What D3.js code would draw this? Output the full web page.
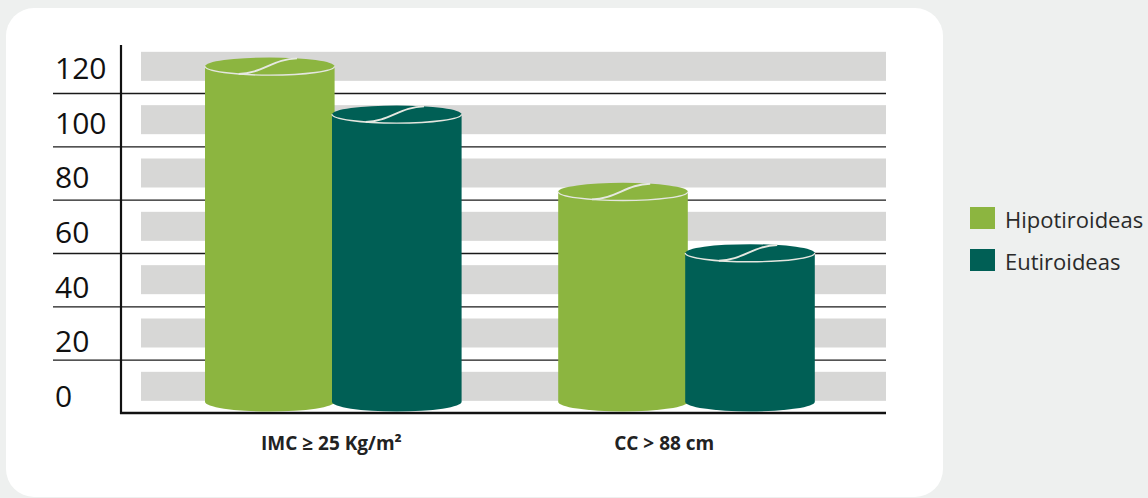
<!DOCTYPE html>
<html>
<head>
<meta charset="utf-8">
<script src="https://cdn.jsdelivr.net/npm/d3@7"></script>
<style>
  html, body { margin: 0; padding: 0; background: #eef0ef; }
  svg { display: block; }
  text { font-family: "Open Sans", "Noto Sans", sans-serif; }
</style>
</head>
<body>
<svg id="chart" width="1148" height="498"></svg>
<script>
// Data
const categories = ["IMC ≥ 25 Kg/m²", "CC > 88 cm"];
const seriesNames = ["Hipotiroideas", "Eutiroideas"];
const hipotiroideas = [130, 83];
const eutiroideas = [112, 60];
const yTicks = [0, 20, 40, 60, 80, 100, 120];
const seriesColors = ["#8cb540", "#005f55"];

const values = [hipotiroideas, eutiroideas];

const svg = d3.select("#chart");
const W = 1148, H = 498;

// Background and white card
svg.append("rect").attr("width", W).attr("height", H).attr("fill", "#eef0ef");
svg.append("rect")
  .attr("x", 6).attr("y", 8).attr("width", 937).attr("height", 489)
  .attr("rx", 28).attr("ry", 28)
  .attr("fill", "#ffffff");

// Plot geometry
const plotLeft = 121, plotRight = 886, gridLeft = 53, bandLeft = 141;

const y = d3.scaleLinear().domain([0, 120]).range([413, 93]);
const step = y(0) - y(20);

// Category positions and series offsets within a category
const x0 = d3.scalePoint().domain(categories).range([333.3, 686.5]);
const x1 = d3.scaleBand().domain(seriesNames).range([-127, 127]).padding(0);

// Light grey bands centred in every 20-unit interval
const bandVals = d3.range(0, 140, 20);
svg.append("g").selectAll("rect")
  .data(bandVals)
  .join("rect")
  .attr("x", bandLeft)
  .attr("width", plotRight - bandLeft)
  .attr("y", d => y(d + 10) - step * 0.272)
  .attr("height", step * 0.544)
  .attr("fill", "#d7d7d6");

// Horizontal gridlines through an axis generator
const gridAxis = d3.axisLeft(y)
  .tickValues(yTicks.filter(v => v > 0))
  .tickSize(plotRight - gridLeft)
  .tickFormat("");
const gridG = svg.append("g")
  .attr("transform", `translate(${plotRight},0)`)
  .call(gridAxis);
gridG.select(".domain").remove();
gridG.selectAll(".tick line").attr("stroke", "#1a1a1a").attr("stroke-width", 1.4);

// Tick labels sit above their gridlines
const labelY = d3.scaleLinear().domain([0, 120]).range([y(0) - 16, y(120) - 24]);
const labelAxis = d3.axisLeft(labelY).tickValues(yTicks).tickSize(0).tickPadding(0);
const labelG = svg.append("g")
  .attr("transform", "translate(55,0)")
  .call(labelAxis);
labelG.select(".domain").remove();
labelG.selectAll(".tick text")
  .attr("text-anchor", "start")
  .attr("x", 0)
  .attr("font-family", "'Open Sans', sans-serif")
  .attr("font-weight", 400)
  .attr("font-size", 30)
  .attr("fill", "#111");

// Axis lines
svg.append("line")
  .attr("x1", plotLeft).attr("x2", plotLeft)
  .attr("y1", 45).attr("y2", y(0) + 1)
  .attr("stroke", "#111").attr("stroke-width", 2.2);
svg.append("line")
  .attr("x1", plotLeft - 1).attr("x2", plotRight)
  .attr("y1", y(0)).attr("y2", y(0))
  .attr("stroke", "#111").attr("stroke-width", 2.4);

// Cylinders
const ry = 8.8;
const cyls = [];
seriesNames.forEach((s, si) => {
  categories.forEach((c, ci) => {
    cyls.push({ series: s, si, cat: c, value: values[si][ci] });
  });
});

const cylG = svg.append("g");
const rx = (x1.bandwidth() + 2.6) / 2;

cylG.selectAll("g.cyl")
  .data(cyls)
  .join("g")
  .attr("class", "cyl")
  .each(function(d) {
    const g = d3.select(this);
    const cx = x0(d.cat) + x1(d.series) + x1.bandwidth() / 2;
    const yTop = y(d.value);
    const yBase = y(0) - ry - 2.5;
    const color = seriesColors[d.si];
    const xl = cx - rx, xr = cx + rx;

    // body with rounded base
    g.append("path")
      .attr("d", `M${xl},${yTop} L${xl},${yBase} A${rx},${ry + 1} 0 0 0 ${xr},${yBase} L${xr},${yTop} Z`)
      .attr("fill", color);

    // top face
    g.append("ellipse")
      .attr("cx", cx).attr("cy", yTop)
      .attr("rx", rx).attr("ry", ry)
      .attr("fill", color);

    // light front rim of the top face
    g.append("path")
      .attr("d", `M${xl},${yTop} A${rx},${ry} 0 0 0 ${xr},${yTop}`)
      .attr("fill", "none")
      .attr("stroke", "#e4e6df")
      .attr("stroke-width", 1.4);

    // sweeping highlight across the top face
    const fa = -0.48, fb = 0.42;
    const ax = cx + fa * rx, ay = yTop + ry * Math.sqrt(1 - fa * fa);
    const bx = cx + fb * rx, by = yTop - ry * Math.sqrt(1 - fb * fb);
    const dx = bx - ax;
    g.append("path")
      .attr("d", `M${ax},${ay} C${ax + dx * 0.4},${ay - 0.5} ${bx - dx * 0.4},${by + 0.5} ${bx},${by}`)
      .attr("fill", "none")
      .attr("stroke", "#e6e8e1")
      .attr("stroke-width", 1.9);
  });

// Category labels
svg.append("g").selectAll("text")
  .data(categories)
  .join("text")
  .attr("x", d => x0(d) - x1.bandwidth() - 1.3 + 56)
  .attr("y", 450)
  .attr("text-anchor", "start")
  .attr("font-weight", 700)
  .attr("font-size", 19)
  .attr("fill", "#222")
  .text(d => d);

// Legend
const legend = svg.append("g").attr("transform", "translate(970,207)");
const li = legend.selectAll("g")
  .data(seriesNames)
  .join("g")
  .attr("transform", (d, i) => `translate(0,${i * 42})`);
li.append("rect")
  .attr("width", 25).attr("height", 22)
  .attr("fill", (d, i) => seriesColors[i]);
li.append("text")
  .attr("x", 35).attr("y", 20.5)
  .attr("font-size", 22)
  .attr("fill", "#2a2a2a")
  .text(d => d);
</script>
</body>
</html>
